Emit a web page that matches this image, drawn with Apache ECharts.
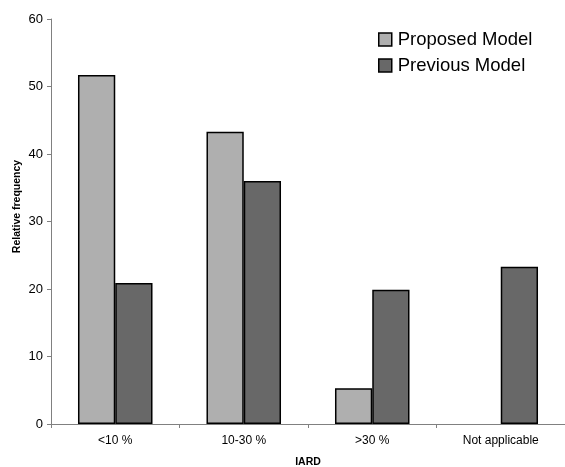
<!DOCTYPE html>
<html><head><meta charset="utf-8">
<script src="https://cdn.jsdelivr.net/npm/echarts@6/dist/echarts.min.js"></script>
<style>html,body{margin:0;padding:0;background:#fff}#c{width:565px;height:467px}</style>
</head><body><div id="c"></div>
<script>
const categories = ['<10 %', '10-30 %', '>30 %', 'Not applicable'];
const proposedModel = [51.7, 43.3, 5.3, null];
const previousModel = [20.9, 36.0, 19.9, 23.3];
const yTicks = [0, 10, 20, 30, 40, 50, 60];

const chart = echarts.init(document.getElementById('c'), null, {renderer: 'canvas'});
const font = 'Liberation Sans, Arial, sans-serif';
chart.setOption({
  animation: false,
  backgroundColor: '#fff',
  grid: {left: 51, right: 0, top: 19, bottom: 43, containLabel: false, outerBoundsMode: 'none'},
  legend: {
    orient: 'vertical', left: 373, top: 25, itemWidth: 13, itemHeight: 13, itemGap: 7, icon: 'rect',
    textStyle: {fontFamily: font, fontSize: 18.5, color: '#000', padding: [0, 0, 0, 1]},
    data: [
      {name: 'Proposed Model', itemStyle: {color: '#afafaf', borderColor: '#000', borderWidth: 1.5}},
      {name: 'Previous Model', itemStyle: {color: '#686868', borderColor: '#000', borderWidth: 1.5}}
    ]
  },
  xAxis: {
    type: 'category', data: categories, name: 'IARD', nameLocation: 'middle', nameGap: 33,
    nameTextStyle: {fontFamily: font, fontSize: 10.5, fontWeight: 'bold', color: '#000'},
    axisLine: {lineStyle: {color: '#808080', width: 1}},
    axisTick: {show: true, length: 4, lineStyle: {color: '#808080'}},
    axisLabel: {fontFamily: font, fontSize: 12, color: '#000', margin: 11}
  },
  yAxis: {
    type: 'value', min: 0, max: 60, interval: 10,
    name: 'Relative frequency', nameLocation: 'middle', nameGap: 34, nameRotate: 90,
    nameMoveOverlap: false,
    nameTextStyle: {fontFamily: font, fontSize: 10.5, fontWeight: 'bold', color: '#000', padding: [0, 0, 0, 30], verticalAlign: 'middle'},
    axisLine: {show: true, lineStyle: {color: '#808080', width: 1}},
    axisTick: {show: true, length: 4, lineStyle: {color: '#808080'}},
    splitLine: {show: false},
    axisLabel: {fontFamily: font, fontSize: 13, color: '#000', margin: 8,
      formatter: v => yTicks.includes(v) ? String(v) : ''}
  },
  series: [
    {name: 'Proposed Model', type: 'bar', data: proposedModel, barWidth: '29%', barGap: '0%',
     itemStyle: {color: '#afafaf', borderColor: '#000', borderWidth: 1.5}},
    {name: 'Previous Model', type: 'bar', data: previousModel, barWidth: '29%', barGap: '0%',
     itemStyle: {color: '#686868', borderColor: '#000', borderWidth: 1.5}}
  ]
});
</script></body></html>
